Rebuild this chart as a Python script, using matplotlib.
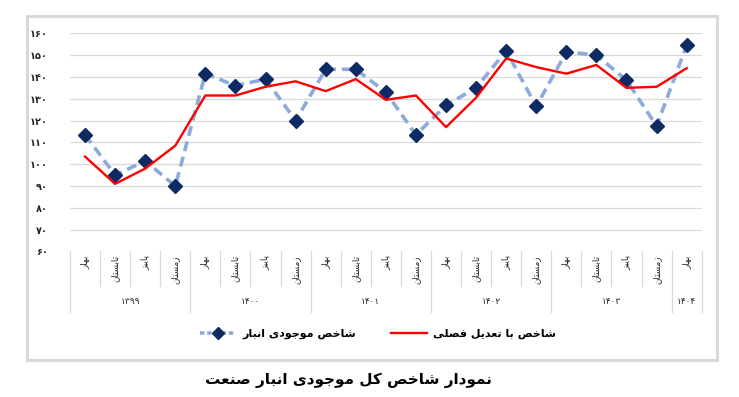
import matplotlib
matplotlib.use('Agg')
import matplotlib.pyplot as plt
from matplotlib.lines import Line2D
from matplotlib.patches import Rectangle
import numpy as np

plt.rcParams['font.family'] = ['DejaVu Sans']

# data
seasons = ['بهار', 'تابستان', 'پاییز', 'زمستان']
years = ['۱۳۹۹', '۱۴۰۰', '۱۴۰۱', '۱۴۰۲', '۱۴۰۳', '۱۴۰۴']
year_counts = [4, 4, 4, 4, 4, 1]
inventory = [113.5, 95, 101.5, 90, 141.5, 136, 139, 120, 143.5, 143.5,
             133, 113.5, 127, 135, 152, 126.5, 151.5, 150, 138.5, 117.5, 154.5]
seasonal_adj = [103.5, 91, 98, 108.5, 131.5, 131.5, 135.5, 138, 133.5, 139,
                129.5, 131.5, 117, 130.5, 148.5, 144.5, 141.5, 145.5, 135, 135.5, 144]
label_inv = 'شاخص موجودی انبار'
label_adj = 'شاخص با تعدیل فصلی'
title = 'نمودار شاخص کل موجودی انبار صنعت'
yticks = list(range(60, 161, 10))

# matplotlib has no arabic shaping, so pick presentation forms by hand
# (isolated, final, initial, medial); 2-tuple = joins only to the right
FORMS = {
    'ا': (0xFE8D, 0xFE8E), 'د': (0xFEA9, 0xFEAA), 'ر': (0xFEAD, 0xFEAE),
    'ز': (0xFEAF, 0xFEB0), 'و': (0xFEED, 0xFEEE),
    'ب': (0xFE8F, 0xFE90, 0xFE91, 0xFE92), 'ت': (0xFE95, 0xFE96, 0xFE97, 0xFE98),
    'ج': (0xFE9D, 0xFE9E, 0xFE9F, 0xFEA0), 'خ': (0xFEA5, 0xFEA6, 0xFEA7, 0xFEA8),
    'س': (0xFEB1, 0xFEB2, 0xFEB3, 0xFEB4), 'ش': (0xFEB5, 0xFEB6, 0xFEB7, 0xFEB8),
    'ص': (0xFEB9, 0xFEBA, 0xFEBB, 0xFEBC), 'ع': (0xFEC9, 0xFECA, 0xFECB, 0xFECC),
    'ف': (0xFED1, 0xFED2, 0xFED3, 0xFED4), 'ل': (0xFEDD, 0xFEDE, 0xFEDF, 0xFEE0),
    'م': (0xFEE1, 0xFEE2, 0xFEE3, 0xFEE4), 'ن': (0xFEE5, 0xFEE6, 0xFEE7, 0xFEE8),
    'ه': (0xFEE9, 0xFEEA, 0xFEEB, 0xFEEC), 'پ': (0xFB56, 0xFB57, 0xFB58, 0xFB59),
    'ک': (0xFB8E, 0xFB8F, 0xFB90, 0xFB91), 'ی': (0xFBFC, 0xFBFD, 0xFBFE, 0xFBFF),
}


def fa(s):
    out = []
    for i, c in enumerate(s):
        if c not in FORMS:
            out.append(c)
            continue
        f = FORMS[c]
        prev = s[i - 1] if i > 0 else ''
        nxt = s[i + 1] if i < len(s) - 1 else ''
        jp = prev in FORMS and len(FORMS[prev]) == 4
        jn = nxt in FORMS and len(f) == 4
        if jp and jn:
            g = f[3]
        elif jp:
            g = f[1]
        elif jn:
            g = f[2]
        else:
            g = f[0]
        out.append(chr(g))
    return ''.join(reversed(out))


def fa_num(v):
    return str(v).translate(str.maketrans('0123456789', '۰۱۲۳۴۵۶۷۸۹'))


W, H = 739, 397
fig = plt.figure(figsize=(W / 100, H / 100), dpi=100)
ax = fig.add_axes([70 / W, 1 - 251.5 / H, 631.7 / W, 218.2 / H])

x = np.arange(len(inventory))
ax.plot(x, inventory, color='#8eaadb', lw=2.6, dashes=(2.8, 1.6),
        marker='D', markersize=7, markerfacecolor='#0d2a63',
        markeredgecolor='#0d2a63', zorder=3)
ax.plot(x, seasonal_adj, color='#ff0000', lw=1.7, zorder=4)

ax.set_xlim(-0.5, len(inventory) - 0.5)
ax.set_ylim(60, 160)
ax.set_yticks(yticks)
ax.set_yticklabels([fa_num(v) for v in yticks], fontsize=7, fontweight='bold',
                   color='#262626')
ax.tick_params(axis='y', length=0, pad=16)
ax.set_xticks([])
ax.yaxis.grid(True, color='#d9d9d9', lw=0.9)
ax.set_axisbelow(True)
for sp in ax.spines.values():
    sp.set_visible(False)

# category table under the plot
tr = ax.get_xaxis_transform()
bounds = np.cumsum([0] + year_counts) - 0.5
for b in np.arange(-0.5, len(inventory)):
    yb = -0.276 if np.isclose(bounds, b).any() else -0.157
    ax.plot([b, b], [0, yb], transform=tr, clip_on=False, color='#d9d9d9', lw=0.9)
for i in x:
    ax.text(i, -0.018, fa(seasons[i % 4]), transform=tr, rotation=90,
            ha='center', va='top', fontsize=6.3, color='#262626')
for k, yr in enumerate(years):
    ax.text((bounds[k] + bounds[k + 1]) / 2, -0.23, yr, transform=tr,
            ha='center', va='center', fontsize=6.5, color='#262626')

handles = [
    Line2D([], [], color='#8eaadb', lw=2.6, dashes=(1.2, 0.8), marker='D',
           markersize=6, markerfacecolor='#0d2a63', markeredgecolor='#0d2a63'),
    Line2D([], [], color='#ff0000', lw=1.7),
]
fig.legend(handles, [fa(label_inv), fa(label_adj)], loc='center',
           bbox_to_anchor=(378 / W, 1 - 334 / H), ncol=2, frameon=False,
           prop={'size': 8, 'weight': 'bold'}, handlelength=3.2,
           columnspacing=3.2, handletextpad=0.6)

fig.patches.append(Rectangle((27 / W, 1 - 360 / H), 690 / W, 344 / H,
                             transform=fig.transFigure, fill=False,
                             edgecolor='#d9d9d9', lw=2.2))
fig.text(348 / W, 1 - 380 / H, fa(title), ha='center', va='center',
         fontsize=11, fontweight='bold')

fig.savefig('out.png', dpi=100)
